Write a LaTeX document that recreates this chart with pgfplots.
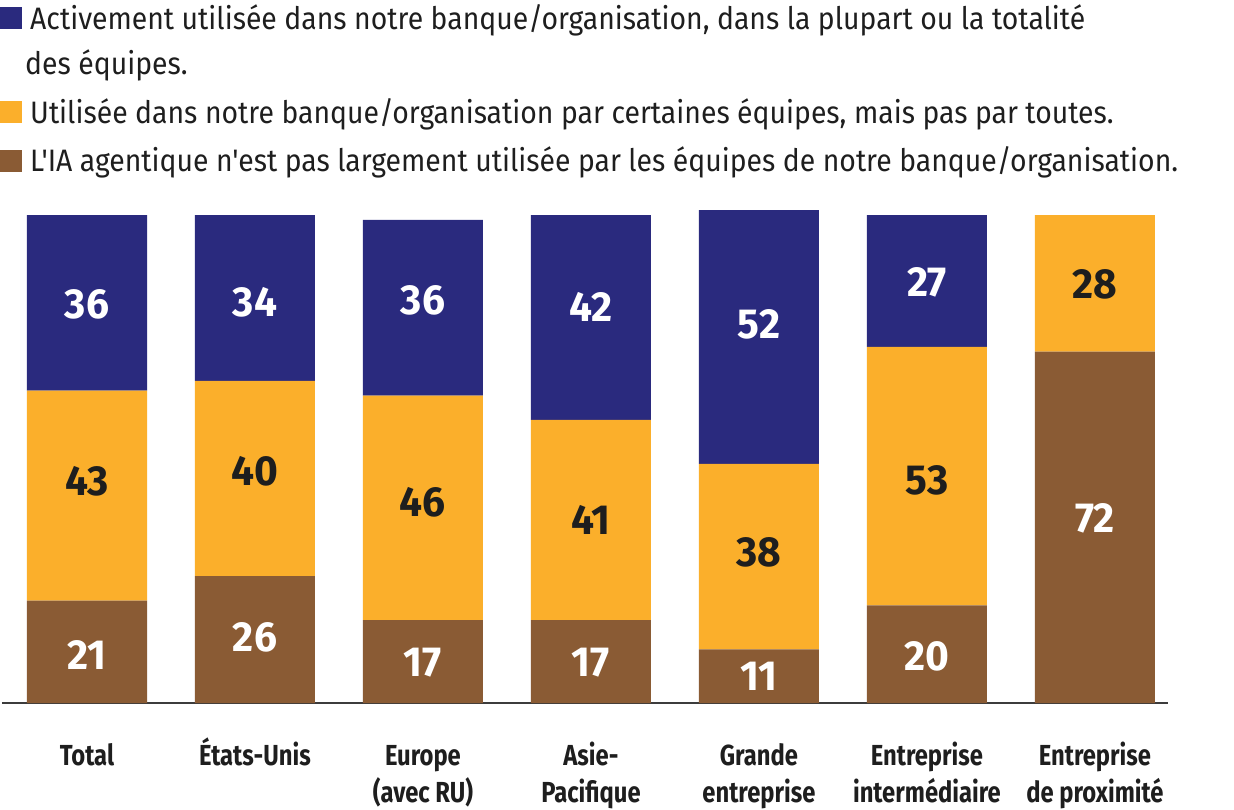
\documentclass[border=0pt]{standalone}
\usepackage{fontspec}
\setmainfont{Fira Sans}[FakeStretch=0.82]
\newfontfamily\legfont{Fira Sans}[FakeStretch=0.915]
\newfontfamily\numfont{Fira Sans}[FakeStretch=0.97]
\usepackage{pgfplots}
\pgfplotsset{compat=1.18}
\definecolor{cnavy}{RGB}{42,42,126}
\definecolor{corange}{RGB}{251,175,43}
\definecolor{cbrown}{RGB}{138,91,52}
\definecolor{ctext}{RGB}{30,30,30}
\definecolor{axisgray}{RGB}{60,60,60}
\newcommand\vp{\vphantom{É}}
\newcommand\strA{\rule[-8pt]{0pt}{34pt}}
\newcommand\strB{\rule[-8pt]{0pt}{42pt}}
\newcommand\strC{\rule[-8pt]{0pt}{45pt}}
\pgfplotsset{sqleg/.style={legend image code/.code={\fill[##1] (0pt,0pt) rectangle (22pt,22pt);}}}
\pgfplotstableread{
x y l
0 9.8 21
1 13.5 26
2 8.2 17
3 8.2 17
4 5.5 11
5 9.6 20
6 37.9 72
}\brownlab
\pgfplotstableread{
x y l
0 45.5 43
1 47.5 40
2 41.2 46
3 37.5 41
4 30.9 38
5 45.7 53
6 85.7 28
}\orangelab
\pgfplotstableread{
x y l
0 81.6 36
1 82.2 34
2 82.6 36
3 81.1 42
4 77.5 52
5 86.1 27
}\navylab
\begin{document}
\begin{tikzpicture}
\useasboundingbox (0,0) rectangle (1234pt,809pt);
\begin{axis}[
  at={(2pt,106pt)}, anchor=south west,
  scale only axis, width=1166pt, height=495.3pt,
  xmin=-0.506, xmax=6.435, ymin=0, ymax=101.5,
  ybar stacked, bar width=120pt,
  axis y line=none, axis x line*=bottom,
  axis line style={draw=axisgray, line width=1.3pt, -},
  xtick={0,...,6}, major tick length=0pt,
  xticklabels={{\vp Total},{\vp États-Unis},{\vp Europe\\(avec RU)},{\vp Asie-\\Pacifique},{\vp Grande\\entreprise},{\vp Entreprise\\intermédiaire},{\vp Entreprise\\de proximité}},
  xticklabel style={font=\bfseries\fontsize{29}{37}\selectfont, align=center, text=ctext, anchor=north, inner sep=0pt, yshift=-35pt},
  legend style={draw=none, fill=none, at={(-0.0017,1.4133)}, anchor=north west,
    font=\legfont\fontsize{31}{34}\selectfont, text=ctext, row sep=10pt, column sep=8pt, inner sep=0pt,
    nodes={inner sep=0pt, anchor=base west}},
]
\addlegendimage{sqleg, fill=cnavy, draw=none}
\addlegendimage{empty legend}
\addlegendimage{sqleg, fill=corange, draw=none}
\addlegendimage{sqleg, fill=cbrown, draw=none}
\legend{{\strA Activement utilisée dans notre banque/organisation, dans la plupart ou la totalité},{\strB\hspace{-5pt}des équipes.},{\strC Utilisée dans notre banque/organisation par certaines équipes, mais pas par toutes.},{\strC L'IA agentique n'est pas largement utilisée par les équipes de notre banque/organisation.}}
\addplot[fill=cbrown, draw=none] coordinates {(0,21) (1,26) (2,17) (3,17) (4,11) (5,20) (6,72)};
\addplot[fill=corange, draw=none] coordinates {(0,43) (1,40) (2,46) (3,41) (4,38) (5,53) (6,28)};
\addplot[fill=cnavy, draw=none] coordinates {(0,36) (1,34) (2,36) (3,42) (4,52) (5,27) (6,0)};
\end{axis}
\begin{axis}[
  at={(2pt,106pt)}, anchor=south west,
  scale only axis, width=1166pt, height=495.3pt,
  xmin=-0.506, xmax=6.435, ymin=0, ymax=101.5,
  axis lines=none, clip=false,
  nodes near coords, point meta=explicit symbolic,
  nodes near coords align={center},
  every node near coord/.append style={anchor=center, inner sep=0pt, font=\numfont\bfseries\fontsize{42}{42}\selectfont},
]
\addplot[draw=none, mark=none, every node near coord/.append style={text=white}] table[x=x, y=y, meta=l] {\brownlab};
\addplot[draw=none, mark=none, every node near coord/.append style={text=ctext}] table[x=x, y=y, meta=l] {\orangelab};
\addplot[draw=none, mark=none, every node near coord/.append style={text=white}] table[x=x, y=y, meta=l] {\navylab};
\end{axis}
\end{tikzpicture}
\end{document}
